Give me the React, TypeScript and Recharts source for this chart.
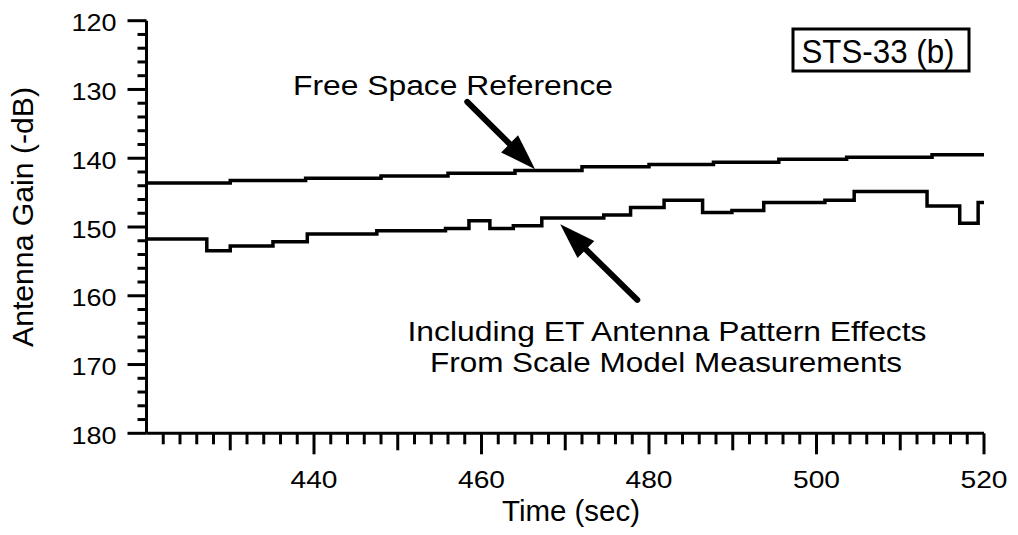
import { LineChart, Line, XAxis, YAxis, ReferenceLine } from "recharts";

// time (sec) where each step starts, and gain (-dB) held until the next step
const freeSpaceTime = [420, 430, 439, 448, 456, 464, 472, 480, 487.7, 495.5, 503.6, 513.8, 520];
const freeSpaceGain = [143.6, 143.25, 142.9, 142.6, 142.2, 141.8, 141.25, 140.9, 140.6, 140.15, 139.85, 139.5, 139.5];

const etTime = [
  420, 427.2, 430, 435.1, 439.2, 447.5, 455.7, 458.5, 461, 463.8, 467.2, 474.6, 477.8, 481.8, 486.4, 489.9, 493.7, 501,
  504.5, 513.2, 517.1, 519.3, 520,
];
const etGain = [
  151.75, 153.45, 152.75, 152.15, 151.0, 150.55, 150.2, 149.1, 150.2, 149.8, 148.7, 148.25, 147.15, 146.1, 147.9, 147.6,
  146.45, 146.1, 144.85, 146.95, 149.45, 146.45, 146.45,
];

const xLabels = [440, 460, 480, 500, 520];
const yLabels = [120, 130, 140, 150, 160, 170, 180];

// annotation arrows: [tail, tip] in (time, gain)
const freeArrow = [
  { x: 458.3, y: 131.8 },
  { x: 466.4, y: 141.6 },
];
const etArrow = [
  { x: 478.6, y: 160.6 },
  { x: 469.4, y: 149.6 },
];

const xMinor = Array.from({ length: 50 }, (_, i) => 422 + i * 2);
const yMinor = Array.from({ length: 31 }, (_, i) => 120 + i * 2);

const freeData = freeSpaceTime.map((t, i) => ({ t, v: freeSpaceGain[i] }));
const etData = etTime.map((t, i) => ({ t, v: etGain[i] }));

const FONT = "'Liberation Sans', Arial, sans-serif";

const XTick = (props: any) => {
  const { x, y, payload } = props;
  const v = payload.value;
  const major = xLabels.includes(v);
  const len = major ? 21 : v % 10 === 0 ? 17 : 11;
  return (
    <g>
      <line x1={x} y1={y} x2={x} y2={y + len} stroke="#000" strokeWidth={3} />
      {major && (
        <text x={x} y={y + 55} textAnchor="middle" fontSize={24} fontFamily={FONT} fill="#000" textLength={47} lengthAdjust="spacingAndGlyphs">
          {v}
        </text>
      )}
    </g>
  );
};

const YTick = (props: any) => {
  const { x, y, payload } = props;
  const v = payload.value;
  const major = yLabels.includes(v);
  const len = major ? 19 : 9;
  return (
    <g>
      <line x1={x} y1={y} x2={x - len} y2={y} stroke="#000" strokeWidth={3} />
      {major && (
        <text x={x - 30} y={y + 2} dy="0.36em" textAnchor="end" fontSize={24} fontFamily={FONT} fill="#000" textLength={45} lengthAdjust="spacingAndGlyphs">
          {v}
        </text>
      )}
    </g>
  );
};

const Arrow = (props: any) => {
  const { x1, y1, x2, y2 } = props;
  const dx = x2 - x1;
  const dy = y2 - y1;
  const len = Math.hypot(dx, dy) || 1;
  const ux = dx / len;
  const uy = dy / len;
  const hl = 36;
  const hw = 12;
  const bx = x2 - ux * hl;
  const by = y2 - uy * hl;
  return (
    <g>
      <line x1={x1} y1={y1} x2={bx + ux * 4} y2={by + uy * 4} stroke="#000" strokeWidth={6} strokeLinecap="round" />
      <polygon points={`${x2},${y2} ${bx - uy * hw},${by + ux * hw} ${bx + uy * hw},${by - ux * hw}`} fill="#000" />
    </g>
  );
};

export default function App() {
  return (
    <div style={{ position: "absolute", left: 0, top: 0, background: "#fff" }}>
      <LineChart width={1018} height={535} margin={{ top: 20.7, right: 34, bottom: 0, left: 0 }}>
        <XAxis
          type="number"
          dataKey="t"
          domain={[420, 520]}
          ticks={xMinor}
          interval={0}
          height={101.7}
          tickSize={0}
          tickMargin={0}
          tickLine={false}
          axisLine={{ stroke: "#000", strokeWidth: 3 }}
          tick={<XTick />}
          allowDataOverflow
        />
        <YAxis
          type="number"
          domain={[120, 180]}
          reversed
          ticks={yMinor}
          interval={0}
          width={146.5}
          tickSize={0}
          tickMargin={0}
          tickLine={false}
          axisLine={{ stroke: "#000", strokeWidth: 3 }}
          tick={<YTick />}
          allowDataOverflow
        />
        <Line
          data={freeData}
          dataKey="v"
          type="stepAfter"
          stroke="#000"
          strokeWidth={3.5}
          dot={false}
          activeDot={false}
          isAnimationActive={false}
        />
        <Line
          data={etData}
          dataKey="v"
          type="stepAfter"
          stroke="#000"
          strokeWidth={3.5}
          dot={false}
          activeDot={false}
          isAnimationActive={false}
        />
        <ReferenceLine segment={freeArrow} shape={<Arrow />} />
        <ReferenceLine segment={etArrow} shape={<Arrow />} />
        <text x={453} y={95} textAnchor="middle" fontSize={27} fontFamily={FONT} fill="#000" textLength={320} lengthAdjust="spacingAndGlyphs">
          Free Space Reference
        </text>
        <text x={667} y={341} textAnchor="middle" fontSize={27} fontFamily={FONT} fill="#000" textLength={519} lengthAdjust="spacingAndGlyphs">
          Including ET Antenna Pattern Effects
        </text>
        <text x={666} y={372} textAnchor="middle" fontSize={27} fontFamily={FONT} fill="#000" textLength={472} lengthAdjust="spacingAndGlyphs">
          From Scale Model Measurements
        </text>
        <rect x={793} y={29} width={176} height={42} fill="none" stroke="#000" strokeWidth={3} />
        <text x={878} y={63} textAnchor="middle" fontSize={33} fontFamily={FONT} fill="#000" textLength={153} lengthAdjust="spacingAndGlyphs">
          STS-33 (b)
        </text>
        <text
          x={33}
          y={217}
          transform="rotate(-90, 33, 217)"
          textAnchor="middle"
          fontSize={29}
          fontFamily={FONT}
          fill="#000"
          textLength={260}
          lengthAdjust="spacingAndGlyphs"
        >
          Antenna Gain (-dB)
        </text>
        <text x={571} y={521} textAnchor="middle" fontSize={29} fontFamily={FONT} fill="#000" textLength={138} lengthAdjust="spacingAndGlyphs">
          Time (sec)
        </text>
      </LineChart>
    </div>
  );
}
